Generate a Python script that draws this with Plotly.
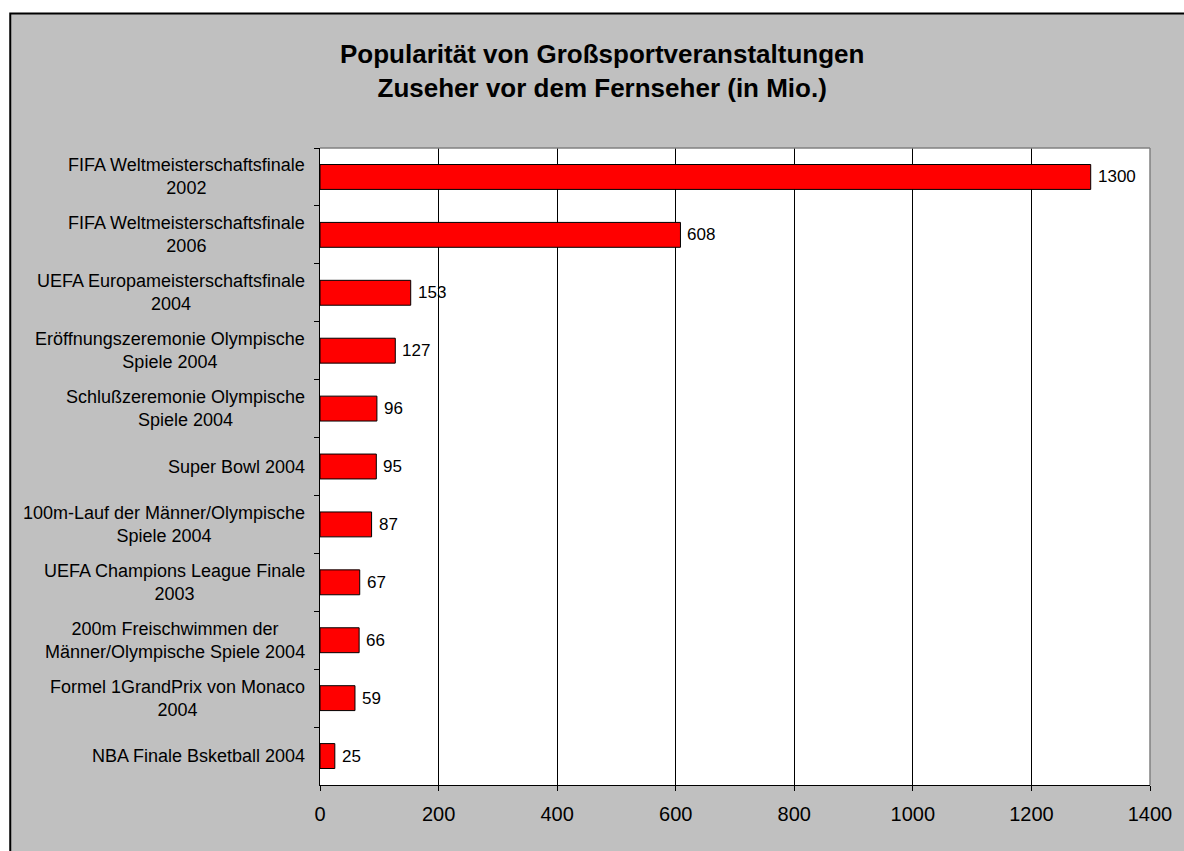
import plotly.graph_objects as go

categories = [
    "FIFA Weltmeisterschaftsfinale<br>2002",
    "FIFA Weltmeisterschaftsfinale<br>2006",
    "UEFA Europameisterschaftsfinale<br>2004",
    "Eröffnungszeremonie Olympische<br>Spiele 2004",
    "Schlußzeremonie Olympische<br>Spiele 2004",
    "Super Bowl 2004",
    "100m-Lauf der Männer/Olympische<br>Spiele 2004",
    "UEFA Champions League Finale<br>2003",
    "200m Freischwimmen der<br>Männer/Olympische Spiele 2004",
    "Formel 1GrandPrix von Monaco<br>2004",
    "NBA Finale Bsketball 2004",
]
viewers = [1300, 608, 153, 127, 96, 95, 87, 67, 66, 59, 25]
x_ticks = [0, 200, 400, 600, 800, 1000, 1200, 1400]
title_text = "Popularität von Großsportveranstaltungen<br>Zuseher vor dem Fernseher (in Mio.)"

W, H = 1184, 851
L, R, T, B = 320, 1152, 148, 785
PW, PH = R - L, B - T


def px_x(p):
    return (p - L) / PW


def px_y(p):
    return (B - p) / PH


FONT = "Liberation Sans, Arial, sans-serif"

fig = go.Figure()
fig.add_trace(go.Bar(
    y=categories,
    x=viewers,
    orientation="h",
    width=0.43,
    marker=dict(color="#FF0000", line=dict(color="#000000", width=1)),
    hoverinfo="x+y",
))

annotations = []
# category labels (centered lines, right-aligned block)
for c in categories:
    annotations.append(dict(
        x=0, xref="paper", y=c, yref="y", text=c, showarrow=False,
        xanchor="right", yanchor="middle", align="center", xshift=-13,
        font=dict(family=FONT, size=18, color="#000000"),
    ))
# data labels
for c, v in zip(categories, viewers):
    annotations.append(dict(
        x=v, xref="x", y=c, yref="y", text=str(v), showarrow=False,
        xanchor="left", yanchor="middle", xshift=5,
        font=dict(family=FONT, size=17, color="#000000"),
    ))
# title
annotations.append(dict(
    x=px_x(603), xref="paper", y=px_y(71), yref="paper", text="<b>" + title_text + "</b>",
    showarrow=False, xanchor="center", yanchor="middle", align="center",
    font=dict(family=FONT, size=26, color="#000000"),
))

shapes = [
    # chart area background with border
    dict(type="rect", xref="paper", yref="paper", layer="below",
         x0=px_x(9.5), x1=px_x(1250), y0=px_y(900), y1=px_y(13.5),
         fillcolor="#C0C0C0", line=dict(color="#000000", width=2)),
    # plot area
    dict(type="rect", xref="paper", yref="paper", layer="below",
         x0=0, x1=1, y0=0, y1=1, fillcolor="#FFFFFF", line=dict(width=0)),
    # plot area top and right borders
    dict(type="line", xref="paper", yref="paper", layer="above",
         x0=0, x1=1, y0=1, y1=1, line=dict(color="#808080", width=1.5)),
    dict(type="line", xref="paper", yref="paper", layer="above",
         x0=1, x1=1, y0=0, y1=1, line=dict(color="#808080", width=1.5)),
]

fig.update_layout(
    width=W, height=H,
    margin=dict(l=L, r=W - R, t=T, b=H - B, pad=0),
    paper_bgcolor="#FFFFFF",
    plot_bgcolor="#FFFFFF",
    showlegend=False,
    bargap=0.57,
    font=dict(family=FONT, size=18, color="#000000"),
    annotations=annotations,
    shapes=shapes,
    xaxis=dict(
        range=[0, 1400], tickvals=x_ticks, ticktext=[str(t) for t in x_ticks],
        showgrid=True, gridcolor="#000000", gridwidth=1,
        showline=True, linecolor="#000000", linewidth=1,
        ticks="outside", ticklen=5, tickcolor="#000000", tickwidth=1,
        tickfont=dict(family=FONT, size=20, color="#000000"),
        ticklabelstandoff=6, zeroline=False, fixedrange=True,
    ),
    yaxis=dict(
        type="category", categoryorder="array", categoryarray=categories,
        range=[len(categories) - 0.5, -0.5],
        showticklabels=False, showgrid=False, zeroline=False,
        showline=True, linecolor="#000000", linewidth=1,
        ticks="outside", ticklen=5, tickcolor="#000000", tickwidth=1,
        tickson="boundaries", fixedrange=True,
    ),
)

fig.write_html("out.html")
